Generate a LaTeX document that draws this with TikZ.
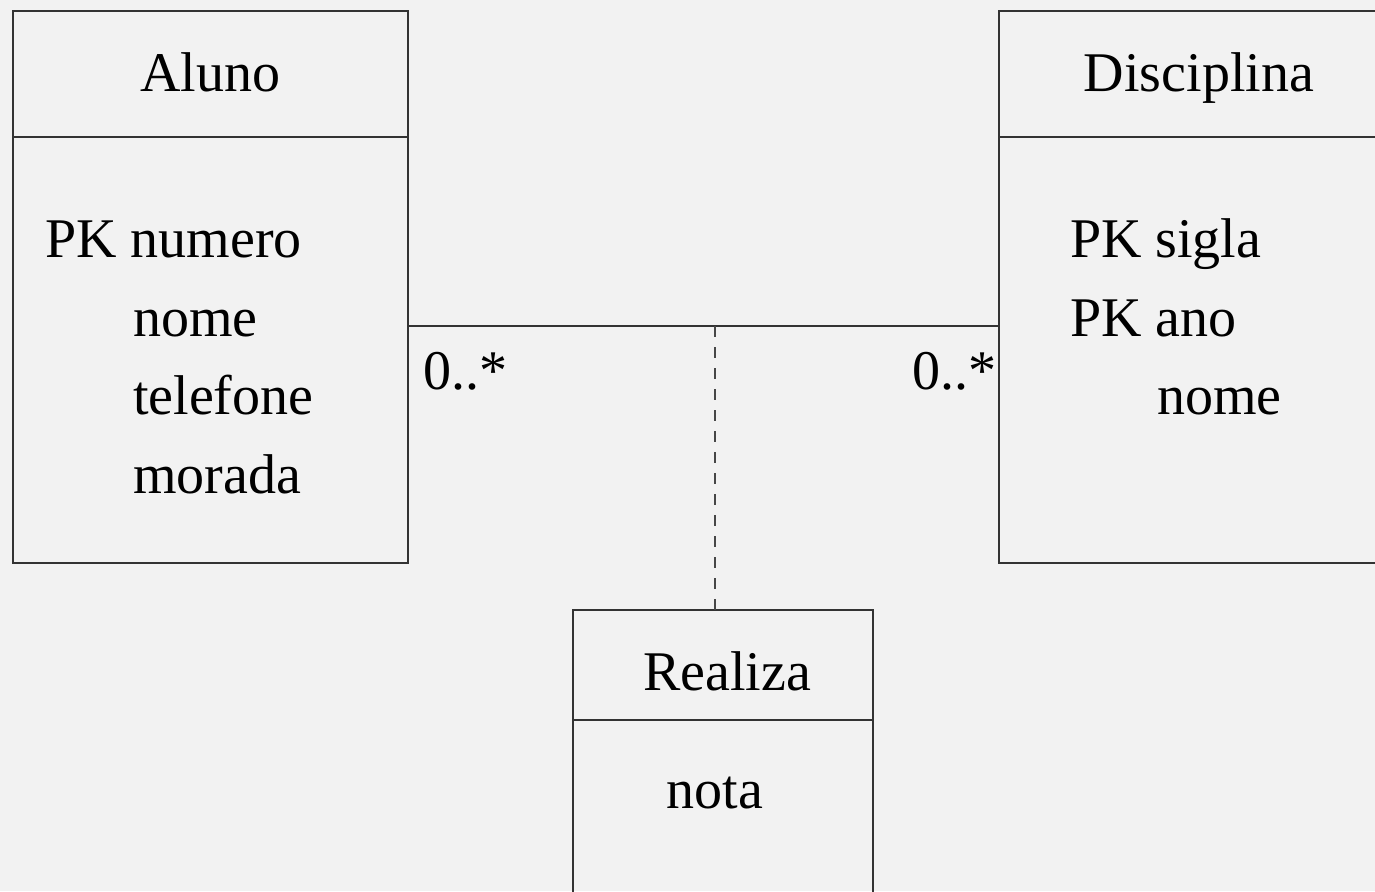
\documentclass[tikz,border=0pt]{standalone}
\usepackage{fontspec}
\setmainfont{Liberation Serif}
\definecolor{bg}{HTML}{F2F2F2}
\definecolor{ink}{HTML}{333333}
\tikzset{
  classbox/.style={draw=ink, line width=1.3pt, inner sep=0pt, outer sep=0pt, rectangle},
  divider/.style={draw=ink, line width=1.3pt},
  assocline/.style={draw=ink, line width=1.3pt},
  linkline/.style={draw=ink!90, line width=1.6pt, dash pattern=on 11pt off 10pt},
  txt/.style={inner sep=0pt, outer sep=0pt, anchor=base west, text=black,
    font=\fontsize{56}{67}\selectfont},
  title/.style={txt, anchor=base},
}
\begin{document}
\begin{tikzpicture}[x=1pt, y=-1pt]
  \fill[bg] (0,0) rectangle (1375,891);
  \useasboundingbox (0,0) rectangle (1375,891);

  % class boxes
  \node[classbox, minimum width=395pt, minimum height=552pt] (aluno) at (210.5,287) {};
  \node[classbox, minimum width=380pt, minimum height=552pt] (disc) at (1189,287) {};
  \node[classbox, minimum width=300pt, minimum height=300pt] (realiza) at (723,760) {};

  % compartment dividers
  \draw[divider] (aluno.west |- 0,137) -- (aluno.east |- 0,137);
  \draw[divider] (disc.west |- 0,137) -- (disc.east |- 0,137);
  \draw[divider] (realiza.west |- 0,720) -- (realiza.east |- 0,720);

  % association and association class link
  \coordinate (assoc) at (715,326);
  \draw[assocline] (aluno.east |- assoc) -- (disc.west |- assoc);
  \draw[linkline] (assoc) -- (assoc |- realiza.north);

  % class names
  \node[title] (naluno) at (210,92) {Aluno};
  \node[title] (ndisc) at (1199,92) {Disciplina};
  \node[title] (nreal) at (727,690) {Realiza};

  % attributes of Aluno
  \node[txt] (a1) at (45,257) {PK numero};
  \node[txt] (a2) at (133,336) {nome};
  \node[txt] (a3) at (133,414) {telefone};
  \node[txt] (a4) at (133,493) {morada};

  % attributes of Disciplina
  \node[txt] (d1) at (1070,257) {PK sigla};
  \node[txt] (d2) at (1070,336) {PK ano};
  \node[txt] (d3) at (1157,414) {nome};

  % attribute of Realiza
  \node[title] (r1) at (715,808) {nota};

  % multiplicities
  \node[txt] (m1) at (423,389) {0..*};
  \node[txt] (m2) at (912,389) {0..*};
\end{tikzpicture}
\end{document}
